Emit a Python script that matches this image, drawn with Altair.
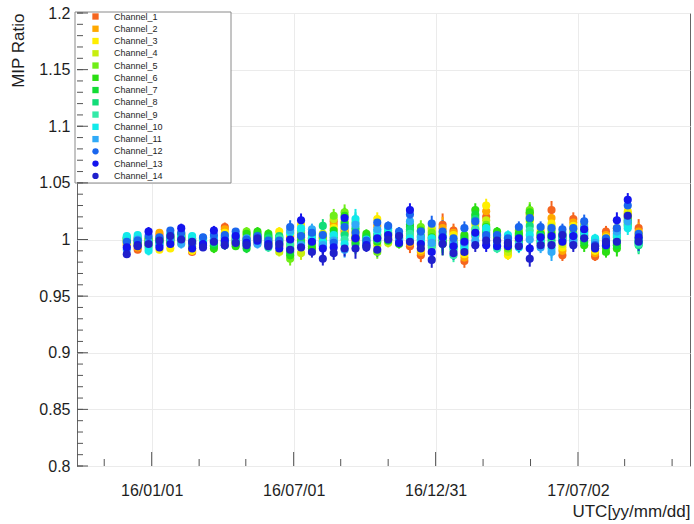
import altair as alt
import pandas as pd

# Calibration dates (UTC)
dates = [
    "2015-11-30", "2015-12-14", "2015-12-28", "2016-01-11", "2016-01-25", "2016-02-08",
    "2016-02-22", "2016-03-07", "2016-03-21", "2016-04-04", "2016-04-18", "2016-05-02",
    "2016-05-16", "2016-05-30", "2016-06-13", "2016-06-27", "2016-07-11", "2016-07-25",
    "2016-08-08", "2016-08-22", "2016-09-05", "2016-09-19", "2016-10-03", "2016-10-17",
    "2016-10-31", "2016-11-14", "2016-11-28", "2016-12-12", "2016-12-26", "2017-01-09",
    "2017-01-23", "2017-02-06", "2017-02-20", "2017-03-06", "2017-03-20", "2017-04-03",
    "2017-04-17", "2017-05-01", "2017-05-15", "2017-05-29", "2017-06-12", "2017-06-26",
    "2017-07-10", "2017-07-24", "2017-08-07", "2017-08-21", "2017-09-04", "2017-09-18",
]

channels = [f"Channel_{i}" for i in range(1, 15)]
colors = [
    "#f5651f", "#ffa800", "#ffee00", "#c8ee10", "#70ee18", "#2ade12", "#12dc35",
    "#12dd78", "#33eaa8", "#12eaea", "#30aaf8", "#1a66ee", "#1414ee", "#2020cc",
]
legend_shapes = ["square"] * 11 + ["circle"] * 3

# MIP ratio per channel, one value per calibration date
ch01 = [0.995, 0.991, 0.996, 1.004, 1.000, 1.002, 0.989, 0.997, 0.998, 1.011, 0.997, 0.998, 0.997, 0.996, 0.994, 1.000,
        1.002, 0.998, 1.001, 1.016, 1.008, 1.000, 0.997, 1.004, 1.000, 0.998, 0.994, 0.986, 1.000, 1.013, 1.008, 0.981,
        1.003, 1.020, 0.998, 0.993, 0.999, 1.023, 1.004, 1.026, 0.986, 1.018, 1.004, 0.985, 1.007, 1.005, 1.020, 1.010]
ch02 = [0.997, 0.993, 0.998, 1.006, 1.003, 1.004, 0.992, 0.999, 1.000, 1.009, 1.000, 1.001, 0.999, 0.998, 0.996, 1.003,
        1.006, 1.000, 1.003, 1.013, 1.006, 1.003, 0.999, 1.012, 1.002, 1.000, 0.997, 0.989, 1.004, 1.010, 1.006, 0.984,
        1.006, 1.025, 1.000, 0.990, 1.002, 1.020, 1.006, 1.019, 0.990, 1.015, 1.007, 0.988, 1.004, 1.008, 1.023, 1.007]
ch03 = [0.996, 0.995, 0.997, 0.991, 0.992, 0.997, 0.990, 0.998, 0.999, 1.006, 0.998, 0.999, 1.001, 0.997, 1.007, 1.005,
        1.013, 0.996, 1.000, 1.010, 1.010, 1.006, 0.996, 1.018, 1.004, 1.002, 0.999, 0.991, 1.008, 1.006, 1.004, 0.987,
        1.010, 1.030, 0.996, 0.986, 1.004, 1.016, 1.008, 1.014, 0.993, 1.012, 1.010, 0.990, 1.002, 1.010, 1.025, 1.005]
ch04 = [0.998, 0.996, 1.000, 1.000, 0.996, 1.000, 0.994, 1.000, 0.996, 1.003, 1.001, 1.003, 1.003, 1.000, 0.989, 0.995,
        0.988, 1.002, 1.005, 1.018, 1.016, 1.008, 1.001, 0.995, 0.997, 0.997, 1.003, 0.995, 1.010, 1.003, 1.000, 0.991,
        1.014, 1.017, 1.002, 0.989, 1.006, 1.022, 1.002, 1.011, 0.996, 1.009, 1.013, 0.992, 0.998, 1.003, 1.022, 1.003]
ch05 = [1.000, 0.998, 0.999, 0.998, 0.998, 1.003, 0.996, 0.996, 0.994, 1.001, 0.996, 1.007, 1.005, 1.002, 0.998, 0.983,
        1.000, 0.994, 1.002, 1.021, 1.024, 0.998, 1.003, 0.989, 1.003, 1.003, 1.007, 1.011, 1.006, 1.000, 0.998, 1.002,
        1.020, 1.013, 1.004, 0.992, 1.008, 1.026, 0.999, 1.008, 0.999, 1.006, 1.008, 0.994, 0.992, 0.997, 1.019, 1.001]
ch06 = [0.999, 0.997, 1.001, 0.999, 1.001, 1.001, 0.997, 0.998, 0.992, 0.999, 0.994, 1.005, 1.007, 1.005, 1.000, 0.986,
        0.998, 0.992, 0.998, 1.008, 1.021, 1.002, 1.005, 0.998, 1.005, 0.996, 1.011, 1.008, 1.002, 0.998, 0.996, 1.004,
        1.026, 1.011, 1.007, 0.995, 1.005, 1.024, 0.997, 1.005, 1.002, 1.003, 0.995, 0.996, 0.989, 0.992, 1.017, 0.999]
ch07 = [1.001, 0.999, 0.998, 1.001, 0.999, 1.005, 0.999, 1.001, 0.995, 0.997, 0.998, 0.992, 1.004, 1.003, 1.002, 0.989,
        1.004, 0.997, 0.996, 1.005, 1.014, 0.996, 1.002, 1.002, 0.999, 1.001, 1.013, 1.003, 0.998, 0.996, 0.994, 1.000,
        1.022, 1.008, 1.003, 0.997, 1.003, 1.018, 1.005, 1.002, 1.004, 1.000, 0.998, 0.998, 0.994, 0.995, 1.015, 0.997]
ch08 = [1.002, 1.001, 0.995, 0.997, 1.002, 1.003, 1.001, 0.999, 0.997, 0.995, 1.000, 0.995, 1.002, 1.001, 1.003, 0.992,
        0.997, 1.004, 1.012, 1.002, 1.004, 1.010, 0.994, 1.000, 1.006, 0.999, 1.009, 1.000, 0.995, 0.999, 0.991, 0.996,
        1.018, 1.006, 0.999, 0.999, 0.998, 1.012, 1.003, 0.999, 1.001, 0.997, 1.001, 0.999, 0.996, 0.999, 1.013, 0.995]
ch09 = [1.001, 1.002, 0.993, 0.996, 1.004, 0.999, 1.000, 0.997, 0.999, 0.996, 1.002, 0.997, 0.998, 0.993, 1.001, 0.996,
        1.008, 1.001, 0.994, 1.000, 1.000, 1.015, 0.998, 1.004, 1.008, 1.004, 1.005, 0.997, 0.993, 1.002, 0.986, 0.994,
        1.009, 1.009, 0.992, 1.002, 0.996, 1.008, 1.000, 0.996, 1.006, 1.002, 1.003, 1.000, 0.999, 1.002, 1.012, 0.996]
ch10 = [1.003, 1.004, 0.990, 0.998, 1.005, 1.002, 1.003, 1.000, 1.002, 0.998, 1.004, 0.999, 1.000, 0.995, 0.997, 1.006,
        1.010, 1.001, 0.998, 1.004, 0.996, 1.018, 1.000, 1.007, 1.010, 1.002, 1.001, 0.999, 1.001, 1.004, 0.993, 0.992,
        1.004, 1.010, 0.995, 1.004, 0.993, 1.004, 0.998, 0.992, 1.003, 1.004, 1.006, 1.001, 1.000, 1.004, 1.010, 0.998]
ch11 = [0.991, 1.000, 0.998, 0.995, 1.000, 0.996, 0.998, 0.995, 1.000, 1.002, 0.999, 1.001, 0.996, 0.998, 0.995, 1.008,
        0.995, 1.009, 0.995, 0.999, 0.991, 1.013, 0.996, 1.009, 1.001, 1.000, 1.016, 1.002, 0.997, 1.001, 0.997, 0.997,
        0.999, 1.002, 0.997, 0.998, 0.995, 1.000, 0.993, 0.989, 1.000, 0.999, 1.011, 0.997, 0.997, 1.007, 1.016, 1.000]
ch12 = [0.998, 0.999, 1.003, 1.002, 1.008, 1.006, 0.996, 1.002, 1.004, 1.004, 1.007, 1.000, 1.003, 0.999, 0.999, 1.011,
        1.003, 1.006, 1.004, 0.997, 1.011, 1.006, 0.999, 1.015, 1.012, 1.007, 1.022, 1.007, 1.014, 1.007, 1.001, 1.010,
        1.016, 1.004, 1.004, 1.001, 1.011, 1.019, 1.011, 1.010, 1.009, 1.010, 1.016, 0.995, 1.001, 1.010, 1.030, 1.005]
ch13 = [0.993, 0.995, 1.007, 0.993, 0.996, 1.010, 0.992, 0.996, 1.008, 0.999, 1.003, 0.997, 0.999, 0.996, 0.992, 1.000,
        1.017, 0.998, 0.992, 0.993, 1.019, 1.001, 0.995, 1.001, 1.004, 0.997, 1.026, 0.996, 0.989, 1.002, 0.994, 0.998,
        1.006, 0.995, 0.994, 0.994, 1.001, 0.992, 1.002, 1.003, 0.998, 1.003, 1.009, 0.992, 0.995, 1.017, 1.035, 1.002]
ch14 = [0.987, 0.994, 0.996, 0.999, 1.003, 1.000, 0.998, 0.993, 0.998, 0.995, 0.997, 0.995, 1.001, 0.994, 0.996, 0.991,
        0.993, 0.989, 0.983, 0.988, 0.992, 0.992, 0.993, 0.991, 1.000, 1.003, 0.998, 0.992, 0.982, 0.996, 0.988, 0.989,
        0.995, 0.999, 0.999, 0.997, 0.994, 0.983, 0.995, 0.995, 1.004, 0.995, 1.001, 0.994, 0.998, 0.998, 1.021, 0.998]

# Statistical uncertainty per calibration date
err = [0.003, 0.003, 0.004, 0.003, 0.003, 0.004, 0.003, 0.003, 0.004, 0.004,
       0.003, 0.004, 0.004, 0.004, 0.004, 0.006, 0.006, 0.005, 0.006, 0.006,
       0.007, 0.009, 0.004, 0.006, 0.004, 0.004, 0.006, 0.006, 0.007, 0.010,
       0.006, 0.006, 0.006, 0.006, 0.004, 0.004, 0.005, 0.007, 0.005, 0.008,
       0.005, 0.006, 0.006, 0.004, 0.005, 0.007, 0.006, 0.008]

# Axis ticks
x_major = ["2016-01-01", "2016-07-01T12:00:00Z", "2016-12-31", "2017-07-02"]
x_minor = ["2015-11-01", "2016-03-02", "2016-05-01", "2016-08-31", "2016-10-31",
           "2017-03-02", "2017-05-02", "2017-08-31", "2017-10-31"]
y_major = [0.8, 0.85, 0.9, 0.95, 1.0, 1.05, 1.1, 1.15, 1.2]
y_minor = [round(0.8 + 0.01 * i, 2) for i in range(41)]

series = [ch01, ch02, ch03, ch04, ch05, ch06, ch07, ch08, ch09, ch10, ch11, ch12, ch13, ch14]
rows = []
for name, vals in zip(channels, series):
    for d, v, e in zip(dates, vals, err):
        rows.append({"date": d, "channel": name, "ratio": v, "lo": v - e, "hi": v + e})
df = pd.DataFrame(rows)

W, H = 613, 453
FONT = "Liberation Sans"
TXT = "#1e1e1e"

x_scale = alt.Scale(type="utc",
                    domain=[alt.DateTime(year=2015, month=9, date=27, utc=True),
                            alt.DateTime(year=2017, month=11, date=23, utc=True)])
y_scale = alt.Scale(domain=[0.8, 1.2], nice=False, zero=False)

x_axis = alt.Axis(
    values=[alt.DateTime(year=2016, month=1, date=1, utc=True),
            alt.DateTime(year=2016, month=7, date=1, hours=12, utc=True),
            alt.DateTime(year=2016, month=12, date=31, utc=True),
            alt.DateTime(year=2017, month=7, date=2, utc=True)],
    labelExpr="utcFormat(datum.value, '%y/%m/%d')",
    title="UTC[yy/mm/dd]", titleFont=FONT, titleFontSize=17, titleFontWeight="normal",
    titleColor=TXT, titleAlign="right", titleBaseline="alphabetic", titleX=W, titleY=50,
    labelFont=FONT, labelFontSize=16, labelColor=TXT, labelPadding=16, labelFlush=False,
    ticks=False, tickSize=0, domain=False,
    grid=True, gridColor="#ebebeb", gridWidth=1,
)
y_axis = alt.Axis(
    values=y_major, format="~g",
    title="MIP Ratio", titleFont=FONT, titleFontSize=17, titleFontWeight="normal",
    titleColor=TXT, titleAngle=270, titleAlign="right", titleBaseline="top",
    titleX=-67, titleY=0,
    labelFont=FONT, labelFontSize=16, labelColor=TXT, labelPadding=7, labelFlush=False,
    ticks=False, tickSize=0, domain=False,
    grid=True, gridColor="#ebebeb", gridWidth=1,
)

legend = alt.Legend(
    orient="none", legendX=-2, legendY=-1, padding=0,
    symbolSize=40, symbolOffset=16, symbolStrokeWidth=0,
    labelFont=FONT, labelFontSize=9, labelColor=TXT, labelOffset=14,
    rowPadding=2.26,
)
color = alt.Color("channel:N", title=None,
                  scale=alt.Scale(domain=channels, range=colors), legend=legend)


def xenc(field):
    return alt.X(field, scale=x_scale, axis=x_axis)


def yenc(field):
    return alt.Y(field, scale=y_scale, axis=y_axis)


base = alt.Chart(df)

# white legend panel with a thin frame
legend_box = alt.Chart(pd.DataFrame({"box": [0]})).mark_rect(
    fill="white", stroke="#8a8a8a", strokeWidth=1
).encode(x=alt.value(-2), x2=alt.value(154), y=alt.value(-1), y2=alt.value(170))

bars = base.mark_rule(strokeWidth=2).encode(
    x=xenc("date:T"), y=yenc("lo:Q"), y2="hi:Q", color=color,
)

points = base.mark_point(filled=True, shape="circle", size=66, opacity=1).encode(
    x=xenc("date:T"), y=yenc("ratio:Q"), color=color,
)

# carries the legend marker shapes only
legend_keys = base.transform_filter("datum.channel == 'none'").mark_point(
    filled=True, opacity=1
).encode(
    x=xenc("date:T"), y=yenc("ratio:Q"),
    color=color,
    shape=alt.Shape("channel:N", title=None,
                    scale=alt.Scale(domain=channels, range=legend_shapes), legend=legend),
)

xmaj = alt.Chart(pd.DataFrame({"date": x_major})).mark_rule(color="#555").encode(
    x=xenc("date:T"), y=alt.value(H), y2=alt.value(H - 14))
xmin = alt.Chart(pd.DataFrame({"date": x_minor})).mark_rule(color="#555").encode(
    x=xenc("date:T"), y=alt.value(H), y2=alt.value(H - 7))
ymaj = alt.Chart(pd.DataFrame({"ratio": y_major})).mark_rule(color="#555").encode(
    y=yenc("ratio:Q"), x=alt.value(0), x2=alt.value(11))
ymin = alt.Chart(pd.DataFrame({"ratio": y_minor})).mark_rule(color="#555").encode(
    y=yenc("ratio:Q"), x=alt.value(0), x2=alt.value(6))

chart = alt.layer(legend_box, bars, points, legend_keys, xmaj, xmin, ymaj, ymin).properties(
    width=W, height=H, autosize="none",
    padding={"left": 77, "top": 13, "right": 4, "bottom": 58},
).configure(font=FONT, background="white").configure_view(stroke="#666", strokeWidth=1)

chart.save("out.html", embed_options={"renderer": "svg", "actions": False})
